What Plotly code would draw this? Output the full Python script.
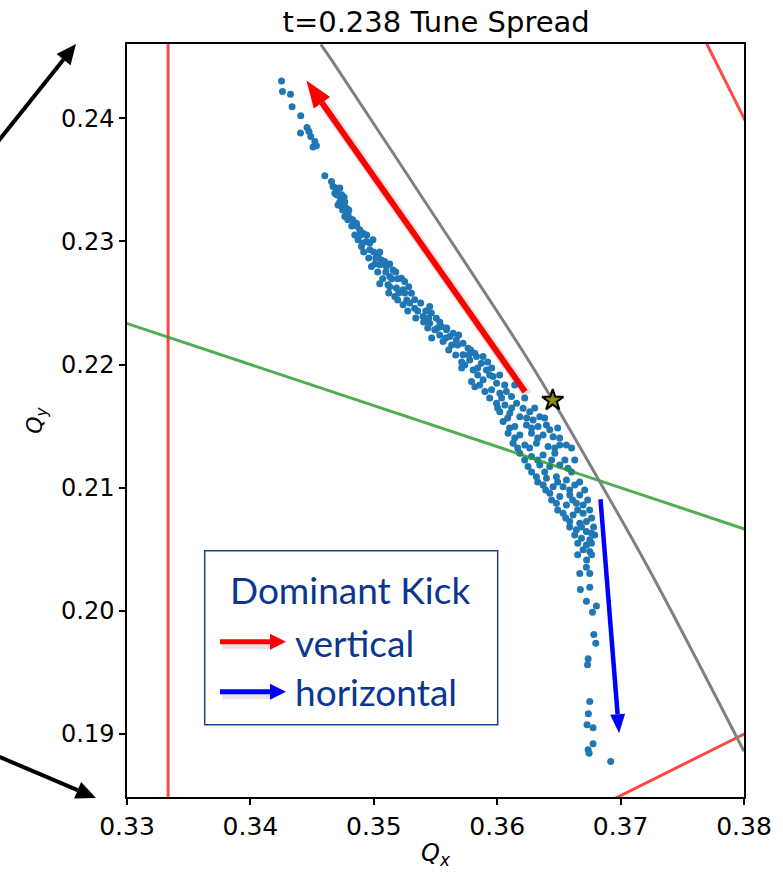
import math
import plotly.graph_objects as go

# ---- tune footprint (Qx, Qy) of the tracked particles ----
qx = [
    0.34252, 0.34260, 0.34325, 0.34338, 0.34408, 0.34406, 0.34459, 0.34475, 0.34489, 0.34522,
    0.34508, 0.34535, 0.34603,
    0.34657, 0.34670, 0.34702, 0.34684, 0.34724, 0.34759, 0.34710, 0.34738, 0.34778, 0.34791,
    0.34765, 0.34805, 0.34859, 0.34886, 0.34913, 0.34872, 0.34940, 0.34993, 0.34900, 0.34967,
    0.35034, 0.35062, 0.35088, 0.34981, 0.35048, 0.35102, 0.35156, 0.35129, 0.35224, 0.35250,
    0.35048, 0.35115, 0.35183, 0.35237, 0.35170, 0.35305, 0.35331, 0.35237, 0.35331, 0.35453,
    0.35399, 0.35466, 0.35507, 0.35453, 0.35548, 0.35494, 0.35589, 0.35643, 0.35561, 0.35669,
    0.35615, 0.35723, 0.35764, 0.35723, 0.35818, 0.35885,
    0.35777, 0.35737, 0.35832, 0.35872, 0.35805, 0.35913, 0.35792, 0.35886, 0.35967, 0.35995,
    0.35819, 0.35900, 0.35954, 0.36021, 0.36075, 0.36116, 0.35995, 0.36062, 0.36157, 0.36210,
    0.36264, 0.36021, 0.36102, 0.36183, 0.36291, 0.36345, 0.36048, 0.36143, 0.36237, 0.36331,
    0.36399, 0.36426, 0.36088, 0.36183, 0.36278, 0.36372, 0.36453, 0.36129, 0.36224, 0.36318,
    0.36412, 0.36507, 0.36561, 0.36183, 0.36278, 0.36372, 0.36467, 0.36548, 0.36250, 0.36345,
    0.36426, 0.36507, 0.36574, 0.36318, 0.36399, 0.36480, 0.36561, 0.36372, 0.36453, 0.36534,
    0.36629, 0.36426, 0.36507, 0.36588, 0.36669, 0.36480, 0.36561, 0.36642, 0.36696, 0.36534,
    0.36615, 0.36696, 0.36588, 0.36669, 0.36723, 0.36642, 0.36723, 0.36764, 0.36683, 0.36750,
    0.36653, 0.36723, 0.36764, 0.36696, 0.36750,
    0.36669, 0.36723, 0.36750, 0.36674, 0.36750, 0.36723, 0.36804, 0.36772, 0.36783, 0.36799,
    0.36737, 0.36732, 0.36750, 0.36739, 0.36728, 0.36777, 0.36777, 0.36737, 0.36745, 0.36920,
]
qy = [
    0.24303, 0.24218, 0.24196, 0.24093, 0.24020, 0.23880, 0.23925, 0.23893, 0.23852, 0.23812,
    0.23766, 0.23777, 0.23534,
    0.23486, 0.23445, 0.23418, 0.23391, 0.23364, 0.23359, 0.23296, 0.23283, 0.23270, 0.23229,
    0.23202, 0.23189, 0.23148, 0.23094, 0.23067, 0.23013, 0.22999, 0.23013, 0.22958, 0.22932,
    0.22877, 0.22850, 0.22837, 0.22796, 0.22810, 0.22796, 0.22769, 0.22715, 0.22702, 0.22674,
    0.22656, 0.22648, 0.22621, 0.22607, 0.22553, 0.22580, 0.22526, 0.22485, 0.22458, 0.22471,
    0.22390, 0.22418, 0.22377, 0.22336, 0.22309, 0.22282, 0.22282, 0.22255, 0.22187, 0.22201,
    0.22228, 0.22174, 0.22133, 0.22079, 0.22092, 0.22065,
    0.22038, 0.21997, 0.22065, 0.22011, 0.21957, 0.21957, 0.21862, 0.21876, 0.21903, 0.21849,
    0.21821, 0.21781, 0.21795, 0.21768, 0.21781, 0.21740, 0.21686, 0.21672, 0.21686, 0.21645,
    0.21618, 0.21618, 0.21605, 0.21577, 0.21550, 0.21577, 0.21537, 0.21497, 0.21510, 0.21497,
    0.21510, 0.21470, 0.21442, 0.21428, 0.21442, 0.21428, 0.21415, 0.21361, 0.21347, 0.21361,
    0.21334, 0.21347, 0.21347, 0.21280, 0.21253, 0.21266, 0.21280, 0.21226, 0.21172, 0.21185,
    0.21172, 0.21185, 0.21158, 0.21090, 0.21077, 0.21090, 0.21063, 0.21023, 0.21009, 0.21009,
    0.21023, 0.20955, 0.20928, 0.20941, 0.20941, 0.20874, 0.20860, 0.20874, 0.20860, 0.20793,
    0.20779, 0.20793, 0.20725, 0.20712, 0.20725, 0.20658, 0.20644, 0.20631, 0.20590, 0.20577,
    0.20550, 0.20536, 0.20550, 0.20496, 0.20482,
    0.20304, 0.20355, 0.20304, 0.20174, 0.20193, 0.20079, 0.20039, 0.19990, 0.19809, 0.19738,
    0.19612, 0.19563, 0.19265, 0.19165, 0.19076, 0.19051, 0.18921, 0.18873, 0.18845, 0.18778,
]

# additional particles in the dense upper band
band_qx = [
    0.34692, 0.34724, 0.34700, 0.34740, 0.34724, 0.34765, 0.34748, 0.34797, 0.34789, 0.34829,
    0.34821, 0.34862, 0.34846, 0.34894, 0.34943, 0.34910, 0.34967, 0.34918, 0.34999, 0.35048,
    0.34959, 0.35016, 0.35008, 0.35072, 0.35129, 0.35032, 0.35097, 0.35178, 0.35072, 0.35145,
    0.35194, 0.35129, 0.35283, 0.35121, 0.35202, 0.35251, 0.35194, 0.35267, 0.35291, 0.35380,
    0.35275, 0.35356, 0.35421, 0.35340, 0.35445, 0.35404, 0.35534, 0.35437, 0.35518, 0.35591,
    0.35534, 0.35688, 0.35469, 0.35583, 0.35631, 0.35680, 0.35607, 0.35785, 0.35664, 0.35769,
    0.35712, 0.35923, 0.35712, 0.35842, 0.35955,
]
band_qy = [
    0.23434, 0.23434, 0.23378, 0.23378, 0.23321, 0.23321, 0.23256, 0.23256, 0.23175, 0.23175,
    0.23126, 0.23126, 0.23053, 0.23053, 0.23053, 0.22988, 0.22988, 0.22915, 0.22915, 0.22915,
    0.22866, 0.22866, 0.22817, 0.22817, 0.22817, 0.22752, 0.22752, 0.22752, 0.22696, 0.22696,
    0.22696, 0.22631, 0.22631, 0.22582, 0.22582, 0.22582, 0.22525, 0.22525, 0.22501, 0.22501,
    0.22436, 0.22436, 0.22436, 0.22379, 0.22379, 0.22346, 0.22346, 0.22298, 0.22298, 0.22298,
    0.22241, 0.22241, 0.22216, 0.22216, 0.22160, 0.22160, 0.22119, 0.22119, 0.22078, 0.22078,
    0.22022, 0.22022, 0.21973, 0.21973, 0.21973,
]

# additional particles in the dense core below the working point
core_qx = [
    0.35842, 0.35939, 0.36020, 0.35858, 0.36061, 0.36142, 0.35939, 0.36036, 0.36223, 0.36004,
    0.36117, 0.36304, 0.36085, 0.36239, 0.36385, 0.36101, 0.36279, 0.36490, 0.36142, 0.36328,
    0.36506, 0.36166, 0.36263, 0.36466, 0.36603, 0.36223, 0.36328, 0.36441, 0.36628, 0.36279,
    0.36385, 0.36603, 0.36328, 0.36490, 0.36668, 0.36393, 0.36587, 0.36709, 0.36441, 0.36611,
    0.36733, 0.36490, 0.36652, 0.36749, 0.36555, 0.36765, 0.36587, 0.36684, 0.36781, 0.36628,
    0.36790, 0.36652, 0.36765, 0.36725,
]
core_qy = [
    0.21916, 0.21916, 0.21916, 0.21835, 0.21835, 0.21835, 0.21729, 0.21729, 0.21729, 0.21648,
    0.21648, 0.21648, 0.21567, 0.21567, 0.21567, 0.21486, 0.21486, 0.21486, 0.21404, 0.21404,
    0.21404, 0.21323, 0.21323, 0.21323, 0.21323, 0.21226, 0.21226, 0.21226, 0.21226, 0.21128,
    0.21128, 0.21128, 0.21047, 0.21047, 0.21047, 0.20982, 0.20982, 0.20982, 0.20901, 0.20901,
    0.20901, 0.20820, 0.20820, 0.20820, 0.20755, 0.20755, 0.20682, 0.20682, 0.20682, 0.20617,
    0.20617, 0.20455, 0.20455, 0.20414,
]

# working point
wp_qx = [0.3645]
wp_qy = [0.2171]

# grey boundary curve
edge_qx = [0.3457, 0.3466, 0.3543, 0.3620, 0.3645, 0.3683, 0.3724, 0.3800]
edge_qy = [0.2460, 0.2447, 0.2330, 0.2212, 0.2171, 0.2105, 0.2032, 0.1886]

# resonance lines (end points)
res_third_x = [1 / 3, 1 / 3]
res_third_y = [0.18, 0.25]
res_coupl_x = [0.32, 0.39]          # Qx + 3Qy = 1
res_coupl_y = [0.226667, 0.203333]
res_sum_x = [0.37, 0.39]            # 2Qx + Qy = 1
res_sum_y = [0.26, 0.22]
res_diff_x = [0.36, 0.39]           # Qx - 2Qy = 0
res_diff_y = [0.18, 0.195]

# dominant-kick arrows: (tail, tip) in tune space
kick_v = ((0.36226, 0.21780), (0.34454, 0.24306))
kick_h = ((0.36837, 0.20907), (0.36988, 0.19007))

X_RANGE = [0.33, 0.38]
Y_RANGE = [0.18489, 0.24603]
x_ticks = [0.33, 0.34, 0.35, 0.36, 0.37, 0.38]
y_ticks = [0.19, 0.20, 0.21, 0.22, 0.23, 0.24]

W, H = 783, 878
ML, MR, MT, MB = 127, 39, 44, 81
PW, PH = W - ML - MR, H - MT - MB

RED = "rgba(255,40,40,0.85)"
GREEN = "rgba(40,150,40,0.8)"
NAVY = "#0c3690"

fig = go.Figure()

fig.add_trace(go.Scatter(x=qx + band_qx + core_qx, y=qy + band_qy + core_qy, mode="markers",
                         marker=dict(size=7, color="#1f77b4", line=dict(width=0)),
                         hoverinfo="skip"))

for xs, ys, col in [(res_third_x, res_third_y, RED),
                    (res_sum_x, res_sum_y, RED),
                    (res_diff_x, res_diff_y, RED),
                    (res_coupl_x, res_coupl_y, GREEN)]:
    fig.add_trace(go.Scatter(x=xs, y=ys, mode="lines",
                             line=dict(color=col, width=3), hoverinfo="skip"))

fig.add_trace(go.Scatter(x=edge_qx, y=edge_qy, mode="lines",
                         line=dict(color="grey", width=3, shape="spline"),
                         hoverinfo="skip"))

fig.add_trace(go.Scatter(x=wp_qx, y=wp_qy, mode="markers",
                         marker=dict(symbol="star", size=16, color="#8f8f00",
                                     line=dict(color="black", width=2)),
                         hoverinfo="skip"))


def arrow_shapes(tail, tip, sx, sy, ref, color, width, head_len, head_half,
                 shadow=False):
    """Shaft + filled triangular head; sx, sy are pixels per unit (y up)."""
    tx, ty = tail
    hx, hy = tip
    dxp, dyp = (hx - tx) * sx, (hy - ty) * sy
    n = math.hypot(dxp, dyp)
    ux, uy = dxp / n, dyp / n
    bx, by = hx - ux * head_len / sx, hy - uy * head_len / sy
    px, py = -uy, ux
    l1 = (bx + px * head_half / sx, by + py * head_half / sy)
    l2 = (bx - px * head_half / sx, by - py * head_half / sy)
    xr, yr = ref
    out = []
    if shadow:
        ox, oy = 2.5 / sx, -3.0 / sy
        out.append(dict(type="line", xref=xr, yref=yr, x0=tx + ox, y0=ty + oy,
                        x1=bx + ox, y1=by + oy, layer="below",
                        line=dict(color="rgba(0,0,0,0.10)", width=width + 4)))
    out.append(dict(type="line", xref=xr, yref=yr, x0=tx, y0=ty, x1=bx, y1=by,
                    line=dict(color=color, width=width)))
    out.append(dict(type="path", xref=xr, yref=yr,
                    path=f"M{hx},{hy} L{l1[0]},{l1[1]} L{l2[0]},{l2[1]} Z",
                    fillcolor=color, line=dict(width=0)))
    return out


sx_d = PW / (X_RANGE[1] - X_RANGE[0])
sy_d = PH / (Y_RANGE[1] - Y_RANGE[0])
shapes = []
shapes += arrow_shapes(*kick_v, sx_d, sy_d, ("x", "y"), "red", 6, 27, 10, shadow=True)
shapes += arrow_shapes(*kick_h, sx_d, sy_d, ("x", "y"), "blue", 4.5, 19, 7.5)


def px_to_paper(p):
    return ((p[0] - ML) / PW, (MT + PH - p[1]) / PH)


# pointer arrows left of the frame and the legend arrows (page pixels)
for tail, tip, col, w, hl, hh, sh in [
        ((-12, 154), (76, 44), "black", 4, 20, 9, False),
        ((-12, 752), (96, 798), "black", 4, 20, 9, False),
        ((220, 641.7), (286, 641.7), "red", 5, 16, 8, True),
        ((220, 691.7), (286, 691.7), "blue", 5, 16, 8, True)]:
    shapes += arrow_shapes(px_to_paper(tail), px_to_paper(tip), PW, PH,
                           ("paper", "paper"), col, w, hl, hh, shadow=sh)

shapes.append(dict(type="rect", xref="paper", yref="paper",
                   x0=0.1259, x1=0.6008, y0=0.0960, y1=0.3271,
                   line=dict(color="#1d3f8f", width=1.5), fillcolor="rgba(0,0,0,0)"))

legend_font = dict(family="Lato", size=37, color=NAVY)
ann = [
    dict(x=0.3609, y=0.2753, xref="paper", yref="paper", text="Dominant Kick",
         showarrow=False, xanchor="center", yanchor="middle", font=legend_font),
    dict(x=0.2686, y=0.2049, xref="paper", yref="paper", text="vertical",
         showarrow=False, xanchor="left", yanchor="middle", font=legend_font),
    dict(x=0.2686, y=0.1402, xref="paper", yref="paper", text="horizontal",
         showarrow=False, xanchor="left", yanchor="middle", font=legend_font),
]

fig.update_layout(
    width=W, height=H, autosize=False,
    margin=dict(l=ML, r=MR, t=MT, b=MB, pad=0),
    paper_bgcolor="white", plot_bgcolor="white",
    showlegend=False,
    title=dict(text="t=0.238 Tune Spread", x=0.557, xanchor="center",
               y=1 - 22 / H, yanchor="middle", yref="container",
               font=dict(family="DejaVu Sans", size=29, color="black")),
    annotations=ann,
    shapes=shapes,
)

axis_common = dict(showgrid=False, zeroline=False, showline=True, linecolor="black",
                   linewidth=1.5, mirror=True, ticks="outside", ticklen=6,
                   tickwidth=1.5, tickcolor="black", tickformat=".2f")
fig.update_xaxes(range=X_RANGE, tickvals=x_ticks, **axis_common,
                 tickfont=dict(family="DejaVu Sans", size=25, color="black"),
                 title=dict(text="<i>Q</i><sub><i>x</i></sub>", standoff=4,
                            font=dict(family="DejaVu Sans", size=24, color="black")))
fig.update_yaxes(range=Y_RANGE, tickvals=y_ticks, **axis_common,
                 tickfont=dict(family="DejaVu Sans", size=24, color="black"),
                 title=dict(text="<i>Q</i><sub><i>y</i></sub>", standoff=12,
                            font=dict(family="DejaVu Sans", size=22, color="black")))

fig.write_html("out.html")
